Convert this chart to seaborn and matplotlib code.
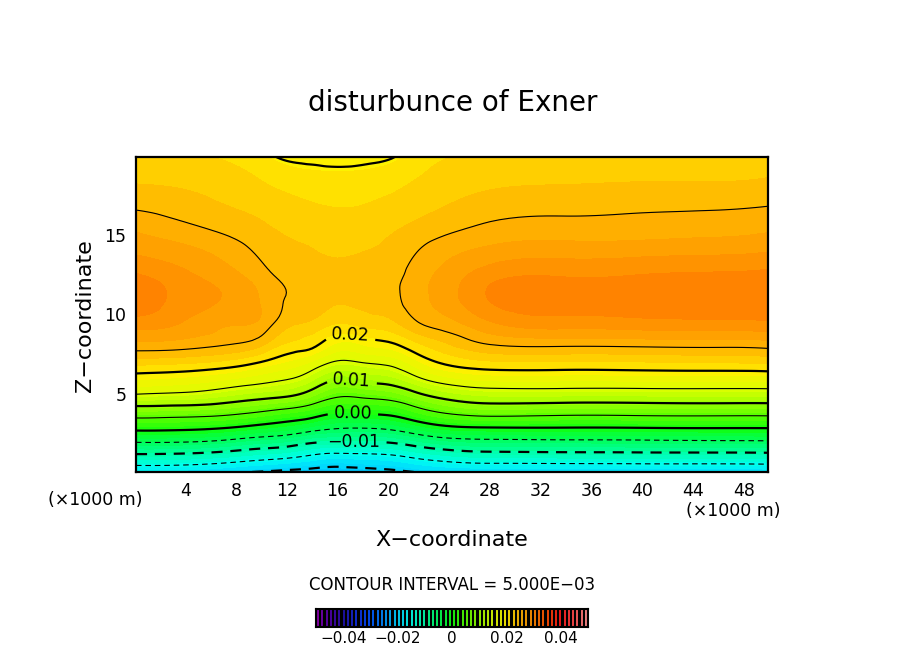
import numpy as np
import matplotlib
matplotlib.use('Agg')
import matplotlib.pyplot as plt
import matplotlib.tri as mtri
from matplotlib.colors import Normalize
import seaborn as sns

# grid (km)
x_km = [0.125, 4, 8, 10, 12, 14, 16, 18, 20, 22, 24, 28, 34, 40, 46, 49.875]
z_km = [0.125, 1, 2, 3, 4, 5, 6, 7, 8, 9.5, 11, 12.5, 14, 15.5, 17, 18.5, 19.875]

# exner disturbance, one list per x column (bottom -> top)
exner_cols = [
    [-0.0180, -0.0117, -0.0049, 0.0018, 0.0082, 0.0150, 0.0190, 0.0226, 0.0258, 0.0290, 0.0310, 0.0298, 0.0278, 0.0262, 0.0245, 0.0232, 0.0222],
    [-0.0180, -0.0120, -0.0050, 0.0015, 0.0079, 0.0144, 0.0185, 0.0222, 0.0255, 0.0280, 0.0290, 0.0284, 0.0270, 0.0253, 0.0240, 0.0230, 0.0220],
    [-0.0195, -0.0132, -0.0063, 0.0004, 0.0067, 0.0127, 0.0172, 0.0211, 0.0246, 0.0268, 0.0277, 0.0268, 0.0256, 0.0243, 0.0232, 0.0224, 0.0215],
    [-0.0202, -0.0141, -0.0072, -0.0006, 0.0056, 0.0118, 0.0163, 0.0199, 0.0234, 0.0262, 0.0264, 0.0256, 0.0246, 0.0237, 0.0228, 0.0218, 0.0206],
    [-0.0208, -0.0149, -0.0080, -0.0016, 0.0044, 0.0109, 0.0153, 0.0186, 0.0213, 0.0240, 0.0249, 0.0245, 0.0238, 0.0231, 0.0223, 0.0211, 0.0197],
    [-0.0212, -0.0162, -0.0096, -0.0030, 0.0028, 0.0085, 0.0131, 0.0169, 0.0203, 0.0232, 0.0243, 0.0242, 0.0235, 0.0228, 0.0219, 0.0208, 0.0196],
    [-0.0214, -0.0170, -0.0100, -0.0042, 0.0010, 0.0058, 0.0103, 0.0146, 0.0181, 0.0220, 0.0238, 0.0240, 0.0232, 0.0225, 0.0217, 0.0207, 0.0193],
    [-0.0212, -0.0167, -0.0102, -0.0043, 0.0012, 0.0061, 0.0111, 0.0151, 0.0185, 0.0225, 0.0240, 0.0241, 0.0234, 0.0227, 0.0218, 0.0208, 0.0196],
    [-0.0207, -0.0163, -0.0098, -0.0038, 0.0017, 0.0069, 0.0119, 0.0158, 0.0192, 0.0230, 0.0244, 0.0243, 0.0238, 0.0231, 0.0222, 0.0211, 0.0198],
    [-0.0200, -0.0150, -0.0084, -0.0021, 0.0037, 0.0091, 0.0142, 0.0180, 0.0210, 0.0247, 0.0258, 0.0256, 0.0248, 0.0237, 0.0227, 0.0218, 0.0209],
    [-0.0193, -0.0138, -0.0070, -0.0004, 0.0058, 0.0113, 0.0164, 0.0201, 0.0226, 0.0258, 0.0270, 0.0268, 0.0258, 0.0243, 0.0232, 0.0224, 0.0217],
    [-0.0190, -0.0127, -0.0061, 0.0006, 0.0075, 0.0131, 0.0179, 0.0216, 0.0247, 0.0280, 0.0298, 0.0290, 0.0270, 0.0253, 0.0240, 0.0230, 0.0222],
    [-0.0190, -0.0125, -0.0059, 0.0006, 0.0071, 0.0131, 0.0179, 0.0217, 0.0250, 0.0290, 0.0304, 0.0295, 0.0274, 0.0256, 0.0243, 0.0232, 0.0224],
    [-0.0189, -0.0124, -0.0058, 0.0007, 0.0072, 0.0131, 0.0180, 0.0218, 0.0251, 0.0292, 0.0306, 0.0297, 0.0275, 0.0257, 0.0245, 0.0233, 0.0224],
    [-0.0187, -0.0124, -0.0056, 0.0008, 0.0073, 0.0132, 0.0180, 0.0220, 0.0252, 0.0293, 0.0307, 0.0299, 0.0277, 0.0259, 0.0246, 0.0233, 0.0225],
    [-0.0185, -0.0123, -0.0055, 0.0008, 0.0073, 0.0132, 0.0181, 0.0222, 0.0254, 0.0295, 0.0308, 0.0301, 0.0280, 0.0262, 0.0248, 0.0235, 0.0226],
]

# colour anchors every 0.005 from -0.05 to 0.05
anchor_colors = ['#9000b0', '#5000a8', '#2010a8', '#1030e0', '#0050ff', '#0090ff',
                 '#00d4ff', '#00fff0', '#00ffa8', '#00ff60', '#10ff10', '#58ff00',
                 '#98ff00', '#d8ff00', '#fff000', '#ffb800', '#ff8c00', '#ff5000',
                 '#ff1818', '#ff4848', '#ff9090']

thin_levels = [-0.015, -0.005, 0.005, 0.015, 0.025]
label_levels = [-0.01, 0.0, 0.01, 0.02]
unlabelled_thick = [-0.02]
label_spots = [(17.3, 1.9), (17.2, 3.8), (17.1, 5.8), (17.0, 8.6)]
cbar_ticks = [-0.04, -0.02, 0, 0.02, 0.04]
cbar_ticklabels = ['\u22120.04', '\u22120.02', '0', '0.02', '0.04']

sns.set_style('white', {'axes.edgecolor': 'black', 'text.color': 'black',
                        'xtick.color': 'black', 'ytick.color': 'black'})
plt.rcParams['font.family'] = ['DejaVu Sans']

X, Z = np.meshgrid(x_km, z_km)
field = np.array(exner_cols).T

# smooth the coarse grid with matplotlib's cubic triangle refiner
tri = mtri.Triangulation(X.ravel(), Z.ravel())
tri_f, field_f = mtri.UniformTriRefiner(tri).refine_field(field.ravel(), subdiv=3)

cmap = sns.blend_palette(anchor_colors, n_colors=256, as_cmap=True)
norm = Normalize(-0.05, 0.05)
fill_levels = np.linspace(-0.05, 0.05, 65)

fig = plt.figure(figsize=(9.04, 6.54), dpi=100)
ax = fig.add_axes([0.1504, 0.2783, 0.6991, 0.4817])

ax.tricontourf(tri_f, field_f, levels=fill_levels, cmap=cmap, norm=norm)
dash = (0, (5, 3.5))


def styles(levels):
    return [dash if lv < 0 else 'solid' for lv in levels]


ax.tricontour(tri_f, field_f, levels=thin_levels, colors='black', linewidths=0.8,
              linestyles=styles(thin_levels))
ax.tricontour(tri_f, field_f, levels=unlabelled_thick, colors='black', linewidths=1.6,
              linestyles=styles(unlabelled_thick))
cs = ax.tricontour(tri_f, field_f, levels=label_levels, colors='black', linewidths=1.6,
                   linestyles=styles(label_levels))
ax.clabel(cs, inline=True, fontsize=12.5, inline_spacing=6,
          fmt=lambda v: f'{v:.2f}'.replace('-', '\u2212'), manual=label_spots)

ax.set_xlim(0.125, 49.875)
ax.set_ylim(0.125, 19.875)
ax.set_xticks(range(4, 49, 4))
ax.set_xticks(range(2, 50, 2), minor=True)
ax.set_yticks([5, 10, 15])
ax.set_yticks(range(1, 20), minor=True)
ax.tick_params(which='both', direction='in', top=True, right=True, labelsize=12.5, pad=7)
ax.tick_params(which='major', length=7, width=1.5)
ax.tick_params(which='minor', length=4, width=1)
for sp in ax.spines.values():
    sp.set_linewidth(1.6)
    sp.set_color('black')

fig.text(0.501, 0.8425, 'disturbunce of Exner', ha='center', va='center', fontsize=20)
fig.text(0.5, 0.174, 'X\u2212coordinate', ha='center', va='center', fontsize=16)
fig.text(0.094, 0.518, 'Z\u2212coordinate', ha='center', va='center', rotation=90, fontsize=16)
fig.text(0.105, 0.235, '(\u00d71000 m)', ha='center', va='center', fontsize=12.5)
fig.text(0.811, 0.219, '(\u00d71000 m)', ha='center', va='center', fontsize=12.5)
fig.text(0.5, 0.1055, 'CONTOUR INTERVAL = 5.000E\u221203', ha='center', va='center', fontsize=12)

# colour key: thin coloured strokes on black
cax = fig.add_axes([0.3496, 0.0413, 0.3009, 0.0275])
cax.set_facecolor('black')
centers = (fill_levels[:-1] + fill_levels[1:]) / 2
cax.vlines(centers, 0, 1, colors=cmap(norm(centers)), linewidth=1.3)
cax.set_xlim(-0.05, 0.05)
cax.set_ylim(0, 1)
cax.set_yticks([])
cax.set_xticks(cbar_ticks)
cax.set_xticklabels(cbar_ticklabels)
cax.tick_params(axis='x', length=0, labelsize=11, pad=3)
for sp in cax.spines.values():
    sp.set_linewidth(1.5)
    sp.set_color('black')

fig.savefig('out.png', dpi=100)
